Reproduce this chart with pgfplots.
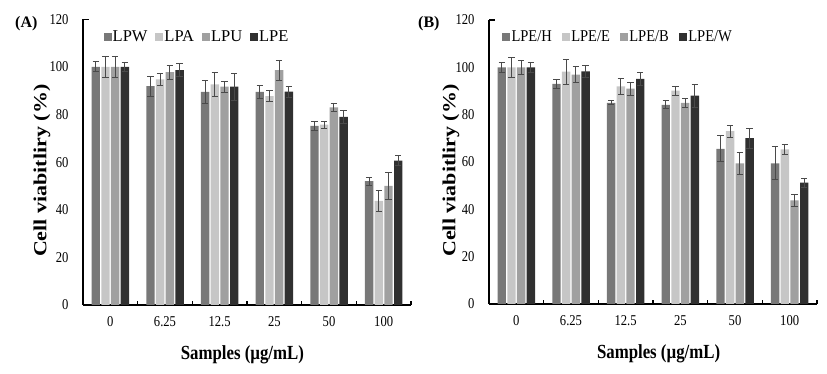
\documentclass[border=0pt]{standalone}
\usepackage{fontspec}
\usepackage{graphicx}
\setmainfont{Liberation Serif}
\newfontfamily\condfont{Liberation Serif}[FakeStretch=0.84]
\newfontfamily\legfontB{Liberation Serif}[FakeStretch=0.88]
\usepackage{pgfplots}
\pgfplotsset{compat=1.18}
\definecolor{cA}{HTML}{787878}
\definecolor{cB}{HTML}{C6C6C6}
\definecolor{cC}{HTML}{A0A0A0}
\definecolor{cD}{HTML}{303030}
\definecolor{cErr}{HTML}{4A4A4A}
\pgfplotsset{
  panel/.style={
    scale only axis, width=328pt,
    ybar=1.3pt, bar width=8.4pt,
    xmin=-0.5, xmax=5.5, ymin=0, ymax=120,
    axis x line*=bottom, axis y line*=left,
    axis line style={line width=1.6pt, -},
    xtick={0,...,5}, xticklabels={0,6.25,12.5,25,50,100},
    ytick={0,20,...,120},
    major tick length=0pt,
    minor xtick={0.5,1.5,2.5,3.5,4.5,5.5},
    minor tick length=4pt,
    minor tick style={line width=1.6pt, black},
    tick align=inside,
    extra y ticks={120}, extra y tick labels={},
    extra y tick style={major tick length=6pt, tick style={line width=1.6pt, black}},
    /pgf/number format/assume math mode=true,
    yticklabel style={font=\condfont\fontsize{15}{15}\selectfont, xshift=-11pt},
    xticklabel style={font=\condfont\fontsize{15}{15}\selectfont, yshift=-8pt},
    xlabel style={font=\bfseries\condfont\fontsize{20}{20}\selectfont, anchor=center},
    ylabel style={font=\bfseries\fontsize{22}{22}\selectfont, anchor=center},
    legend columns=4,
    legend style={draw=none, fill=none, inner sep=0pt,
      nodes={inner sep=1.2pt}},
    legend image code/.code={\fill[##1] (0pt,-4pt) rectangle (8pt,4pt);},
    every axis plot/.append style={draw=none,
      error bars/y dir=both, error bars/y explicit,
      error bars/error bar style={cErr, line width=1pt},
      error bars/error mark options={cErr, rotate=90, mark size=3.2pt, line width=1pt}},
  }
}
\begin{document}
\begin{tikzpicture}
\path[use as bounding box] (0,0) rectangle (827pt,374pt);
% ---------- Panel A ----------
\begin{axis}[panel, height=285.6pt, at={(83pt,69pt)}, anchor=south west,
  xlabel={Samples (µg/mL)}, xlabel style={at={(axis description cs:0.486,-0.175)}},
  ylabel={\scalebox{1}[0.84]{Cell viabitliry (\%)}}, ylabel style={at={(axis description cs:-0.125,0.47)}},
  legend style={at={(axis description cs:0.062,0.94)}, anchor=west,
    font=\fontsize{16.5}{16.5}\selectfont,
    /tikz/every even column/.style={column sep=6.5pt}}]
\addplot[fill=cA] coordinates {(0,100)+-(0,2.1) (1,92)+-(0,4.2) (2,89.5)+-(0,4.9) (3,89.5)+-(0,2.8) (4,75.3)+-(0,2) (5,52)+-(0,1.7)};
\addplot[fill=cB] coordinates {(0,100)+-(0,4.3) (1,94.8)+-(0,2.4) (2,92.7)+-(0,5) (3,87.8)+-(0,2.2) (4,75.8)+-(0,1.5) (5,43.8)+-(0,4.5)};
\addplot[fill=cC] coordinates {(0,100)+-(0,4.4) (1,97.8)+-(0,2.9) (2,91.7)+-(0,2.4) (3,98.7)+-(0,4.2) (4,83)+-(0,1.6) (5,50)+-(0,5.7)};
\addplot[fill=cD] coordinates {(0,100)+-(0,2) (1,98.7)+-(0,2.9) (2,91.7)+-(0,5.7) (3,89.6)+-(0,2.4) (4,79)+-(0,2.8) (5,60.7)+-(0,2.1)};
\legend{LPW,LPA,LPU,LPE}
\end{axis}
% ---------- Panel B ----------
\begin{axis}[panel, height=284pt, at={(489pt,70pt)}, anchor=south west,
  xlabel={Samples (µg/mL)}, xlabel style={at={(axis description cs:0.517,-0.175)}},
  ylabel={\scalebox{1}[0.84]{Cell viabitliry (\%)}}, ylabel style={at={(axis description cs:-0.116,0.47)}},
  legend style={at={(axis description cs:0.040,0.94)}, anchor=west,
    font=\legfontB\fontsize{16.5}{16.5}\selectfont,
    /tikz/every even column/.style={column sep=9pt}}]
\addplot[fill=cA] coordinates {(0,100)+-(0,2) (1,93)+-(0,2) (2,85)+-(0,0.8) (3,84.1)+-(0,1.7) (4,65.5)+-(0,5.5) (5,59.4)+-(0,7)};
\addplot[fill=cB] coordinates {(0,100)+-(0,4.3) (1,98.2)+-(0,5.3) (2,91.9)+-(0,3.4) (3,90.2)+-(0,1.9) (4,73)+-(0,2.5) (5,65.3)+-(0,2)};
\addplot[fill=cC] coordinates {(0,100)+-(0,3) (1,96.9)+-(0,3.4) (2,91)+-(0,2.7) (3,85)+-(0,2) (4,59.4)+-(0,4.5) (5,43.8)+-(0,2.5)};
\addplot[fill=cD] coordinates {(0,100)+-(0,2) (1,98.3)+-(0,2.4) (2,95.1)+-(0,2.6) (3,88)+-(0,4.9) (4,70.1)+-(0,4.2) (5,51.3)+-(0,1.9)};
\legend{LPE/H,LPE/E,LPE/B,LPE/W}
\end{axis}
\node[font=\bfseries\fontsize{16}{16}\selectfont, anchor=west, inner sep=0pt] at (15pt,350pt) {(A)};
\node[font=\bfseries\fontsize{16}{16}\selectfont, anchor=west, inner sep=0pt] at (418pt,350pt) {(B)};
\end{tikzpicture}
\end{document}
